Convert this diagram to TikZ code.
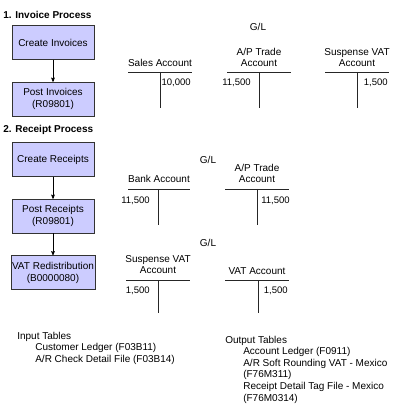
\documentclass[tikz,border=0pt]{standalone}
\usepackage{fontspec}
\setmainfont{Liberation Sans}
\usetikzlibrary{arrows,positioning}
\definecolor{boxfill}{RGB}{204,204,255}

\begin{document}
\begin{tikzpicture}[x=1pt,y=-1pt,->,>=stealth',semithick,node distance=56.5pt,
  font=\fontsize{10}{11.6}\selectfont]
\tikzstyle{prog}=[rectangle,draw=black!80,fill=boxfill,thin,minimum width=82pt,
  minimum height=34pt,align=center,inner sep=1pt,font=\fontsize{10}{12}\selectfont]
\tikzstyle{head}=[anchor=west,inner sep=0pt,font=\bfseries]
\tikzstyle{acct}=[inner sep=0pt,align=center,font=\fontsize{10}{11}\selectfont]
\tikzstyle{amt}=[inner sep=0pt,anchor=east,font=\fontsize{9.5}{11}\selectfont]
\tikzstyle{tline}=[-,thin,black!85]
\tikzstyle{tabs}=[anchor=north west,inner sep=0pt,align=left]
\useasboundingbox (0,0) rectangle (418,409);
% invoice process
\node[head] (invhead) at (3,15) {1. Invoice Process};
\node[prog] (crinv) at (53,42.5) {Create Invoices};
\node[prog][below of=crinv] (postinv) {Post Invoices\\(R09801)};
% receipt process
\node[head] (rcphead) at (3,130) {2. Receipt Process};
\node[prog] (crrcp) at (53,159.5) {Create Receipts};
\node[prog][below of=crrcp] (postrcp) {Post Receipts\\(R09801)};
\node[prog][below of=postrcp] (vatred) {VAT Redistribution\\(B0000080)};
\path (crinv) edge (postinv)
      (crrcp) edge (postrcp)
      (postrcp) edge (vatred);
% G/L after invoices
\node[acct] (glinv) at (258,27) {G/L};
\node[acct] (sales) at (160,63) {Sales Account};
\node[acct] (apinv) at (259,57.5) {A/P Trade\\Account};
\node[acct] (suspinv) at (357,57.5) {Suspense VAT\\Account};
\draw[tline] (128,72) -- (192,72) (160,72) -- (160,108);
\draw[tline] (227,72) -- (291,72) (259,72) -- (259,108);
\draw[tline] (325,72) -- (389,72) (357,72) -- (357,108);
\node[amt] (salesamt) at (191,83) {10,000};
\node[amt] (apinvamt) at (251,83) {11,500};
\node[amt] (suspinvamt) at (388,83) {1,500};
% G/L after receipts
\node[acct] (glrcp) at (208,160) {G/L};
\node[acct] (bank) at (159,179) {Bank Account};
\node[acct] (aprcp) at (257,173.5) {A/P Trade\\Account};
\draw[tline] (128,189) -- (190,189) (158,189) -- (158,225);
\draw[tline] (225,189) -- (289,189) (257,189) -- (257,225);
\node[amt] (bankamt) at (150,201) {11,500};
\node[amt] (aprcpamt) at (290,201) {11,500};
% G/L after redistribution
\node[acct] (glvat) at (208,243) {G/L};
\node[acct] (susprcp) at (158,264.5) {Suspense VAT\\Account};
\node[acct] (vatacct) at (257,271) {VAT Account};
\draw[tline] (126,280) -- (190,280) (158,280) -- (158,313);
\draw[tline] (225,280) -- (289,280) (258,280) -- (258,313);
\node[amt] (susprcpamt) at (150,291) {1,500};
\node[amt] (vatacctamt) at (288,291) {1,500};
% tables
\node[tabs] (intabs) at (17,331.5)
  {Input Tables\\\hspace*{18pt}Customer Ledger (F03B11)\\\hspace*{18pt}A/R Check Detail File (F03B14)};
\node[tabs] (outtabs) at (225,335.5)
  {Output Tables\\\hspace*{18pt}Account Ledger (F0911)\\\hspace*{18pt}A/R Soft Rounding VAT - Mexico\\
   \hspace*{18pt}(F76M311)\\\hspace*{18pt}Receipt Detail Tag File - Mexico\\\hspace*{18pt}(F76M0314)};
\end{tikzpicture}
\end{document}
